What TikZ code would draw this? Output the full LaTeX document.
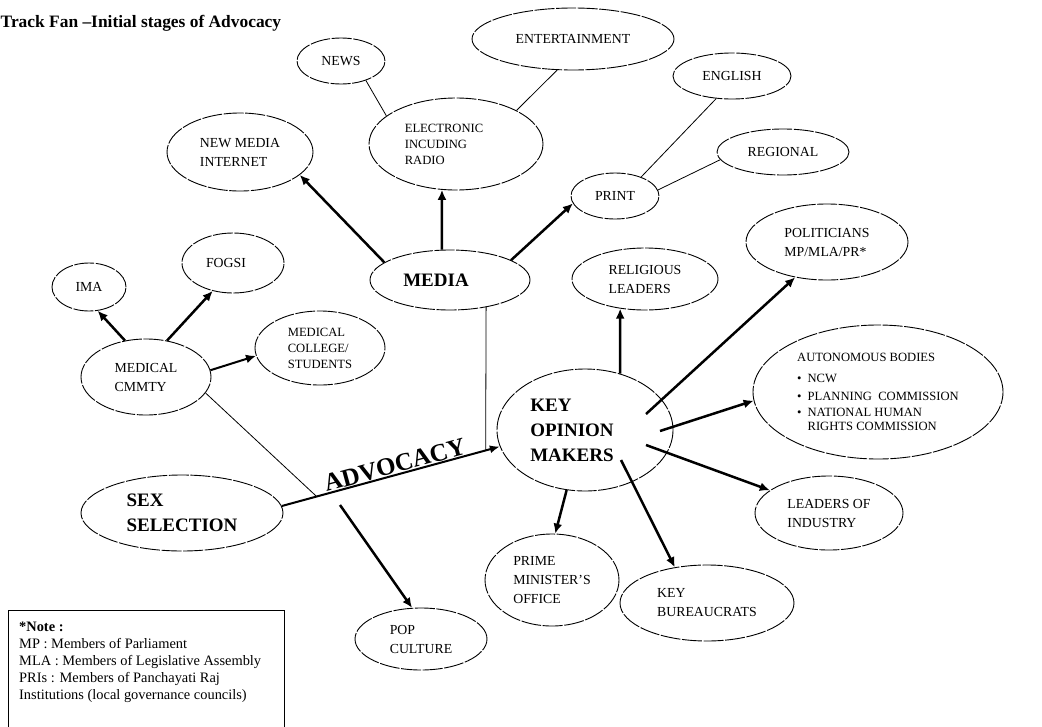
\documentclass[tikz,border=0pt]{standalone}
\usepackage{fontspec}
\setmainfont{Liberation Serif}
\usetikzlibrary{shapes.geometric,arrows.meta,calc}

\begin{document}
\begin{tikzpicture}[x=1pt,y=-1pt,
  bubble/.style={ellipse,draw,line width=0.9pt,dash pattern=on 20pt off 1.6pt,inner sep=0pt,align=left,font=\fontsize{13.8}{19}\selectfont},
  small/.style={font=\fontsize{12.6}{16}\selectfont},
  big/.style={font=\bfseries\fontsize{19}{25}\selectfont},
  push/.style={line width=2.5pt,-{Latex[length=10pt,width=9pt]}},
  link/.style={line width=0.8pt}]
\useasboundingbox (0,0) rectangle (1042,726);
\node[anchor=base west,inner sep=0pt,font=\bfseries\fontsize{17.4}{20}\selectfont] (title) at (0.5,27) {Track Fan –Initial stages of Advocacy};
\node[bubble,minimum width=88pt,minimum height=46pt] (news) at (341,61) {NEWS};
\node[bubble,minimum width=202pt,minimum height=62pt] (entertain) at (573,39) {ENTERTAINMENT};
\node[bubble,small,minimum width=174pt,minimum height=92pt] (electronic) at (456,144) {ELECTRONIC\hspace*{24pt}\\INCUDING\\RADIO};
\node[bubble,minimum width=146pt,minimum height=78pt] (newmedia) at (240,152) {NEW MEDIA\\INTERNET};
\node[bubble,minimum width=118pt,minimum height=46pt] (english) at (732,76) {ENGLISH};
\node[bubble,minimum width=132pt,minimum height=46pt] (regional) at (783,152) {REGIONAL};
\node[bubble,minimum width=88pt,minimum height=46pt] (print) at (615,196) {PRINT};
\node[bubble,minimum width=162pt,minimum height=76pt] (politicians) at (827,242) {POLITICIANS\\MP/MLA/PR*};
\node[bubble,minimum width=146pt,minimum height=62pt] (religious) at (645,279) {RELIGIOUS\\LEADERS};
\node[bubble,big,minimum width=160pt,minimum height=60pt] (media) at (450,280) {MEDIA\hspace*{28pt}};
\node[bubble,minimum width=102pt,minimum height=60pt] (fogsi) at (233,263) {FOGSI\hspace*{14pt}};
\node[bubble,minimum width=74pt,minimum height=48pt] (ima) at (89,287) {IMA};
\node[bubble,minimum width=130pt,minimum height=76pt] (medcom) at (146,377) {MEDICAL\\CMMTY};
\node[bubble,small,minimum width=130pt,minimum height=74pt] (college) at (320,348) {MEDICAL\\COLLEGE/\\STUDENTS};
\node[bubble,big,minimum width=176pt,minimum height=122pt] (key) at (585,430) {KEY\\OPINION\\MAKERS\hspace*{26pt}};
\node[bubble,small,minimum width=250pt,minimum height=134pt] (autonomous) at (878,392) {AUTONOMOUS BODIES\\[5pt]
  \textbullet\hspace{6pt}NCW\\[2pt]
  \textbullet\hspace{6pt}PLANNING\ \ COMMISSION\\
  \textbullet\hspace{6pt}NATIONAL HUMAN\\[-2pt]
  \hphantom{\textbullet}\hspace{6pt}RIGHTS COMMISSION};
\node[bubble,minimum width=148pt,minimum height=74pt] (industry) at (829,513) {LEADERS OF\\INDUSTRY};
\node[bubble,minimum width=134pt,minimum height=92pt] (pmo) at (552,580) {PRIME\\MINISTER’S\\OFFICE};
\node[bubble,minimum width=174pt,minimum height=76pt] (bureaucrats) at (707,603) {KEY\\BUREAUCRATS};
\node[bubble,big,minimum width=202pt,minimum height=76pt] (sex) at (182,513) {SEX\\SELECTION};
\node[bubble,minimum width=132pt,minimum height=62pt] (pop) at (421,639) {POP\\CULTURE};
\node[draw,line width=1.2pt,anchor=north west,minimum width=276pt,minimum height=140pt,inner sep=0pt] (notebox) at (8,610) {};
\node[anchor=north west,align=left,inner sep=0pt,font=\fontsize{14.4}{17}\selectfont] (notetext) at (19,622) {\textbf{*Note :}\\MP : Members of Parliament\\MLA : Members of Legislative Assembly\\PRIs : Members of Panchayati Raj\\Institutions (local governance councils)};
\draw[push] (media.165) -- (newmedia.-21);
\draw[push] (media.105) -- (electronic.-107);
\draw[push] (media.18) -- (print.-170);
\draw[link] (news.-38) -- (electronic.158);
\draw[link] (entertain.-117) -- (electronic.29);
\draw[link] (english.-125) -- (print.36);
\draw[link] (regional.-173) -- (print.8);
\draw[push] (key.58) -- (religious.-130);
\draw[push] ($(key)+(61,-16)$) -- (politicians.-132);
\draw[push] ($(key)+(75,1)$) -- (autonomous.-176);
\draw[push] ($(key)+(61,15)$) -- (industry.159);
\draw[push] (key.-107.6) -- (pmo.86);
\draw[push] ($(key)+(36,30)$) -- (bureaucrats.132);
\draw[push] (medcom.120) -- (ima.-70);
\draw[push] (medcom.60) -- (fogsi.-126);
\draw[push,line width=2pt] (medcom.6) -- (college.-173);
\draw[line width=2pt,-{Latex[length=10pt,width=8pt]}] (sex.4.5) -- node[pos=0.53,sloped,above,inner sep=0.5pt,font=\bfseries\fontsize{25}{25}\selectfont] (advlabel) {ADVOCACY} coordinate[pos=0.16] (advc) coordinate[pos=0.935] (advm) (key.-169.3);
\draw[link] (media.-37) -- (advm);
\draw[link] (medcom.-15) -- (advc);
\coordinate (popfrom) at (340,505);
\draw[push] (popfrom) -- (pop.106);
\end{tikzpicture}
\end{document}
